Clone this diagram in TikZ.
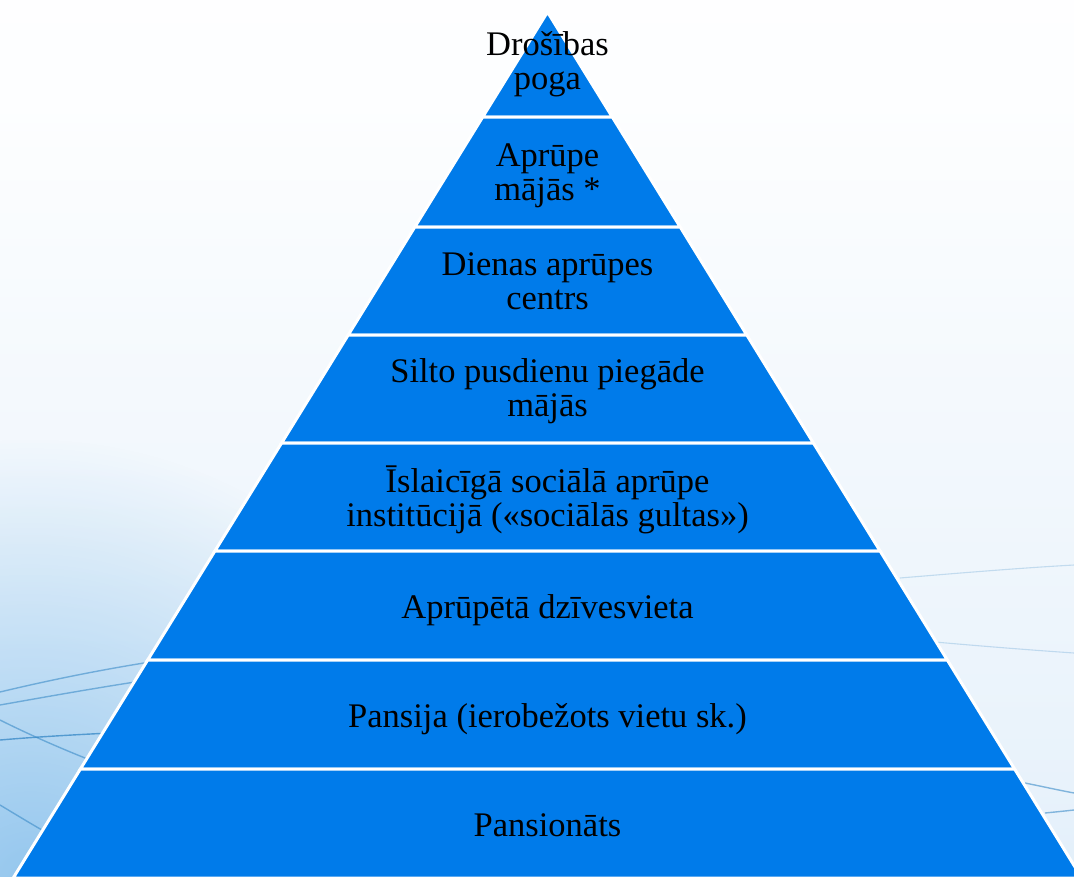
\documentclass[tikz,border=0pt]{standalone}
\usepackage{fontspec}
\setmainfont{Liberation Serif}
\usetikzlibrary{fadings}
\definecolor{pyrblue}{RGB}{0,123,234}
\definecolor{bgblue}{RGB}{198,225,246}
\definecolor{bgmid}{RGB}{232,242,251}
\definecolor{bgdeep}{RGB}{135,192,236}
\definecolor{swoosh}{RGB}{60,140,200}
\pgfdeclareverticalshading{bgsh}{100bp}{color(0bp)=(bgblue); color(30bp)=(bgmid); color(70bp)=(white!97!bgblue); color(100bp)=(white)}
\tikzfading[name=softglow, inner color=transparent!0, outer color=transparent!100]
\tikzset{
  layer/.style={fill=pyrblue, draw=white, line width=3pt, line join=miter},
  lbl/.style={anchor=base, inner sep=0pt, text=black, font=\fontsize{34.5}{34.5}\selectfont},
  sw/.style={draw=swoosh, line width=1.4pt, opacity=0.6},
  swf/.style={draw=swoosh, line width=1.1pt, opacity=0.25}
}
\newcommand{\twoline}[2]{\begin{tabular}[t]{@{}c@{}}#1\\#2\end{tabular}}
\begin{document}
\begin{tikzpicture}[x=1pt,y=-1pt]
\useasboundingbox (0,0) rectangle (1074,876);
% background
\shade[shading=bgsh] (0,0) rectangle (1074,876);
\fill[bgdeep, path fading=softglow, opacity=0.85] (-420,440) rectangle (480,1320);
% swooshes left
\draw[sw] (0,692) .. controls (50,680) and (100,670) .. (150,662);
\draw[sw] (0,705) .. controls (45,697) and (90,689) .. (135,682);
\draw[sw, opacity=0.8] (0,740) .. controls (35,737) and (70,735) .. (110,733);
\draw[sw] (0,720) .. controls (30,735) and (60,748) .. (90,760);
\draw[sw] (0,805) .. controls (15,814) and (28,822) .. (42,830);
% swooshes right
\draw[swf] (900,578) .. controls (960,573) and (1020,568) .. (1074,565);
\draw[swf] (935,642) .. controls (980,646) and (1030,650) .. (1074,653);
\draw[sw] (1025,783) .. controls (1040,786) and (1058,790) .. (1074,793);
\draw[sw] (1045,813) .. controls (1055,812) and (1065,811) .. (1074,810);
% pyramid layers
\path[layer] (547.5,12) -- (612.3,117) -- (482.7,117) -- cycle;
\path[layer] (482.7,117) -- (612.3,117) -- (680.2,227) -- (414.8,227) -- cycle;
\path[layer] (414.8,227) -- (680.2,227) -- (746.8,335) -- (348.2,335) -- cycle;
\path[layer] (348.2,335) -- (746.8,335) -- (813.4,443) -- (281.6,443) -- cycle;
\path[layer] (281.6,443) -- (813.4,443) -- (880.1,551) -- (214.9,551) -- cycle;
\path[layer] (214.9,551) -- (880.1,551) -- (947.3,660) -- (147.7,660) -- cycle;
\path[layer] (147.7,660) -- (947.3,660) -- (1014.6,769) -- (80.4,769) -- cycle;
\path[layer] (80.4,769) -- (1014.6,769) -- (1081.8,878) -- (13.2,878) -- cycle;
% labels
\node[lbl] (L1) at (547.5,55) {\twoline{Drošības}{poga}};
\node[lbl] (L2) at (547.5,166) {\twoline{Aprūpe}{mājās *}};
\node[lbl] (L3) at (547.5,275) {\twoline{Dienas aprūpes}{centrs}};
\node[lbl] (L4) at (547.5,382) {\twoline{Silto pusdienu piegāde}{mājās}};
\node[lbl] (L5) at (547.5,492) {\twoline{Īslaicīgā sociālā aprūpe}{institūcijā («sociālās gultas»)}};
\node[lbl] (L6) at (547.5,618) {Aprūpētā dzīvesvieta};
\node[lbl] (L7) at (547.5,727) {Pansija (ierobežots vietu sk.)};
\node[lbl] (L8) at (547.5,836) {Pansionāts};
\end{tikzpicture}
\end{document}
